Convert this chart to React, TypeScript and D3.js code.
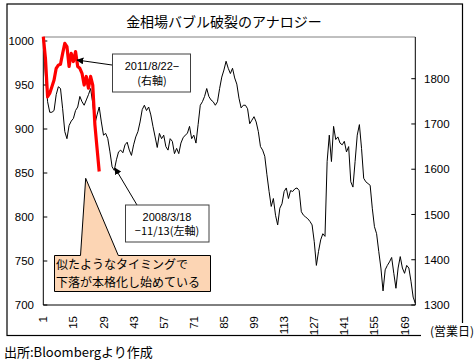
import React, { useEffect, useRef } from 'react';
import * as d3 from 'd3';

// 2008/3/18 - 11/13 (left axis), one value per business day
const gold2008 = [
  1001, 960, 931, 919, 919, 921, 939, 948, 946, 923,
  897, 889, 904, 909, 912, 921, 925, 937, 931, 927,
  933, 939, 946, 929, 906, 916, 925, 908, 893, 895,
  889, 874, 857, 853, 865, 874, 876, 873, 882, 885,
  876, 870, 882, 891, 897, 908, 922, 927, 921, 925,
  916, 903, 891, 879, 895, 889, 893, 880, 876, 889,
  886, 872, 878, 872, 884, 890, 893, 895, 903, 889,
  893, 884, 905, 927, 931, 937, 946, 937, 933, 931,
  927, 931, 946, 959, 967, 977, 969, 963, 969, 958,
  951, 935, 924, 927, 927, 923, 906, 910, 914, 908,
  897, 880, 876, 869, 848, 829, 812, 821, 802, 791,
  810, 815, 829, 833, 821, 830, 829, 832, 833, 830,
  806, 802, 800, 798, 795, 791, 772, 745, 761, 774,
  781, 778, 863, 893, 863, 903, 888, 891, 884, 882,
  886, 874, 880, 840, 834, 863, 893, 905, 878, 844,
  840, 838, 836, 810, 789, 781, 761, 742, 716, 740,
  745, 749, 754, 736, 719, 742, 755, 742, 736, 745,
  742, 727, 709, 702,
];

// 2011/8/22 - (right axis)
const gold2011 = [
  1893, 1845, 1760, 1768, 1782, 1797, 1823, 1830, 1832, 1856,
  1878, 1871, 1827, 1856, 1838, 1860, 1827, 1823, 1812, 1786,
  1805, 1779, 1805, 1786, 1698, 1646, 1595,
];

const leftTicks = [700, 750, 800, 850, 900, 950, 1000];
const rightTicks = [1300, 1400, 1500, 1600, 1700, 1800];
const dayTicks = [1, 15, 29, 43, 57, 71, 85, 99, 113, 127, 141, 155, 169];

const numFont = '"Liberation Sans", Arial, sans-serif';
const jpFont = '"Noto Sans CJK JP", sans-serif';

export default function App() {
  const ref = useRef<HTMLDivElement>(null);

  useEffect(() => {
    const root = d3.select(ref.current);
    root.selectAll('svg').remove();

    const width = 476;
    const height = 362;
    const left = 43.3, right = 415.3, top = 37, bottom = 305;

    const x = d3.scaleLinear().domain([1, gold2008.length]).range([left, right]);
    const yL = d3.scaleLinear().domain([700, 1000]).range([bottom, 41]);
    const yR = d3.scaleLinear().domain([1300, 1800]).range([bottom, 78.7]);

    const svg = root
      .append('svg')
      .attr('width', width)
      .attr('height', height)
      .style('position', 'absolute')
      .style('left', 0)
      .style('top', 0)
      .style('background', '#fff');

    // outer frame
    svg.append('rect')
      .attr('x', 7).attr('y', 4).attr('width', 455.5).attr('height', 331.5)
      .attr('fill', '#fff').attr('stroke', '#000').attr('stroke-width', 1.2);

    svg.append('text')
      .attr('x', 224).attr('y', 27)
      .attr('text-anchor', 'middle')
      .attr('font-family', jpFont).attr('font-size', 14)
      .text('金相場バブル破裂のアナロジー');

    // plot top border
    svg.append('line')
      .attr('x1', left).attr('x2', right).attr('y1', top).attr('y2', top)
      .attr('stroke', '#808080');

    // left axis
    const gl = svg.append('g');
    gl.append('line').attr('x1', left).attr('x2', left).attr('y1', top).attr('y2', bottom).attr('stroke', '#000');
    leftTicks.forEach((t) => {
      gl.append('line').attr('x1', left).attr('x2', left + 4).attr('y1', yL(t)).attr('y2', yL(t)).attr('stroke', '#000');
      gl.append('text')
        .attr('x', 34).attr('y', yL(t)).attr('dy', '0.35em')
        .attr('text-anchor', 'end')
        .attr('font-family', numFont).attr('font-size', 11.5)
        .text(t);
    });

    // right axis
    const gr = svg.append('g');
    gr.append('line').attr('x1', right).attr('x2', right).attr('y1', top).attr('y2', bottom).attr('stroke', '#000');
    rightTicks.forEach((t) => {
      gr.append('line').attr('x1', right - 4).attr('x2', right).attr('y1', yR(t)).attr('y2', yR(t)).attr('stroke', '#000');
      gr.append('text')
        .attr('x', 424).attr('y', yR(t)).attr('dy', '0.35em')
        .attr('font-family', numFont).attr('font-size', 11.5)
        .text(t);
    });

    // x axis
    svg.append('line').attr('x1', left).attr('x2', right).attr('y1', bottom).attr('y2', bottom).attr('stroke', '#000');
    dayTicks.forEach((d) => {
      svg.append('text')
        .attr('transform', `translate(${x(d)},316) rotate(-90)`)
        .attr('dy', '0.35em')
        .attr('text-anchor', 'end')
        .attr('font-family', numFont).attr('font-size', 11.5)
        .text(d);
    });

    // lines
    const line2008 = d3.line<number>().x((_, i) => x(i + 1)).y((d) => yL(d));
    const line2011 = d3.line<number>().x((_, i) => x(i + 1)).y((d) => yR(d));

    svg.append('path')
      .attr('fill', 'none').attr('stroke', '#000').attr('stroke-width', 1)
      .attr('stroke-linejoin', 'round')
      .attr('d', line2008(gold2008));

    svg.append('path')
      .attr('fill', 'none').attr('stroke', '#ff0000').attr('stroke-width', 3.2)
      .attr('stroke-linejoin', 'round')
      .attr('d', line2011(gold2011));

    // arrow marker
    svg.append('defs').append('marker')
      .attr('id', 'arr').attr('viewBox', '0 0 10 10')
      .attr('refX', 9).attr('refY', 5)
      .attr('markerWidth', 7).attr('markerHeight', 7)
      .attr('markerUnits', 'userSpaceOnUse')
      .attr('orient', 'auto')
      .append('path').attr('d', 'M0,0 L10,5 L0,10 Z').attr('fill', '#000');

    // callout (right axis)
    svg.append('line')
      .attr('x1', 112).attr('y1', 65).attr('x2', 77).attr('y2', 60)
      .attr('stroke', '#000').attr('marker-end', 'url(#arr)');
    svg.append('rect')
      .attr('x', 112.5).attr('y', 54).attr('width', 78).attr('height', 38)
      .attr('fill', '#fff').attr('stroke', '#404040');
    const t1 = svg.append('text')
      .attr('text-anchor', 'middle')
      .attr('font-family', numFont).attr('font-size', 11);
    t1.append('tspan').attr('x', 152).attr('y', 69.5).text('2011/8/22−');
    t1.append('tspan').attr('x', 152).attr('y', 84.5).attr('font-family', jpFont).text('(右軸)');

    // callout (left axis)
    svg.append('line')
      .attr('x1', 137).attr('y1', 205).attr('x2', 115).attr('y2', 168)
      .attr('stroke', '#000').attr('marker-end', 'url(#arr)');
    svg.append('rect')
      .attr('x', 125.5).attr('y', 205).attr('width', 83.5).attr('height', 37)
      .attr('fill', '#fff').attr('stroke', '#404040');
    const t2 = svg.append('text')
      .attr('text-anchor', 'middle')
      .attr('font-family', numFont).attr('font-size', 11);
    t2.append('tspan').attr('x', 167).attr('y', 220.5).text('2008/3/18');
    t2.append('tspan').attr('x', 167).attr('y', 234.5).attr('font-family', jpFont).text('−11/13(左軸)');

    // speech callout
    svg.append('path')
      .attr('d', 'M54.5,255.5 L80.5,255.5 L85.7,178.3 L118.3,255.5 L210.5,255.5 L210.5,291.5 L54.5,291.5 Z')
      .attr('fill', '#fcd5b4').attr('stroke', '#000').attr('stroke-width', 1);
    svg.append('text')
      .attr('x', 56).attr('y', 268.5)
      .attr('font-family', jpFont).attr('font-size', 12)
      .text('似たようなタイミングで');
    svg.append('text')
      .attr('x', 56).attr('y', 286.5)
      .attr('font-family', jpFont).attr('font-size', 12)
      .text('下落が本格化し始めている');

    // x axis unit label
    svg.append('rect').attr('x', 421).attr('y', 323).attr('width', 55).attr('height', 18).attr('fill', '#fff');
    svg.append('text')
      .attr('x', 430).attr('y', 335.5)
      .attr('font-family', jpFont).attr('font-size', 12)
      .text('(営業日)');

    // source
    svg.append('text')
      .attr('x', 4).attr('y', 357)
      .attr('font-family', jpFont).attr('font-size', 13)
      .text('出所:Bloombergより作成');

    return () => {
      root.selectAll('svg').remove();
    };
  });

  return <div ref={ref} className='gold-chart'></div>;
}
